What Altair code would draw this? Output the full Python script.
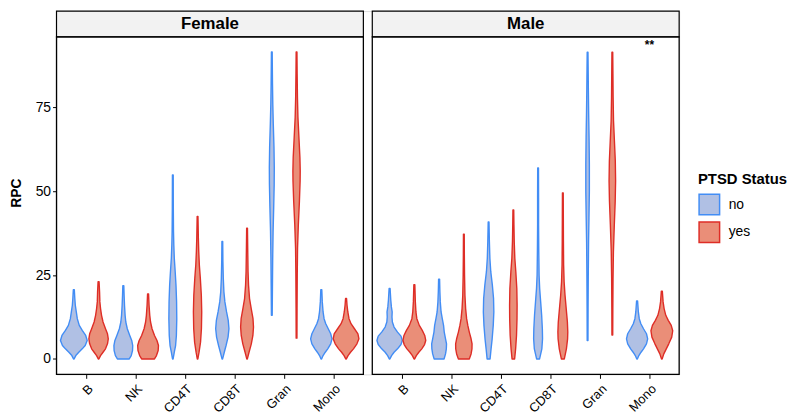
import altair as alt
import pandas as pd

cells = ["B", "NK", "CD4T", "CD8T", "Gran", "Mono"]
sexes = ["Female", "Male"]
statuses = ["no", "yes"]
male_shift = 6.38
dodge = 0.25
unit_px = 50.0

fill_colors = ["#b0c0e4", "#ea8e78"]
stroke_colors = ["#428df5", "#de2d26"]

# violin profiles: (RPC value, half-width in px)
female_no_B = [(0,0.3),(1,2),(2,5),(3,8.5),(4,11.5),(5.5,13.5),(7,12),(8.5,8.5),(10,5.5),(12,3.5),(14,2.5),(16,1.5),(18,1),(20.6,0.5)]
female_yes_B = [(0,0.3),(1,2),(2,4.5),(3,7),(4.5,9),(6,9.8),(7.5,9),(9,7),(11,4.5),(13,3),(15,2),(17,1.3),(20,1),(23,0.5)]
female_no_NK = [(0,6),(1,8),(2.5,9.3),(4,9.5),(5.5,8.5),(7,6.5),(9,4),(11,2.5),(13,1.8),(16,1.2),(19,0.8),(21.8,0.5)]
female_yes_NK = [(0,6.5),(1,8.5),(2.5,10.2),(4,10.5),(5.5,9),(7,6.5),(9,4),(11,2.5),(13,1.7),(16,1),(19.4,0.5)]
female_no_CD4T = [(0,0.3),(2,1.5),(4,2.8),(7,3.6),(12,4),(17,3.8),(22,3.2),(26,2.4),(30,1.5),(34,1),(38,0.7),(45,0.5),(54.8,0.4)]
female_yes_CD4T = [(0,0.3),(2,1.5),(5,3),(9,3.9),(14,4.2),(19,3.8),(24,2.8),(28,1.8),(32,1.2),(36,0.8),(42.5,0.4)]
female_no_CD8T = [(0,0.3),(2,2),(4,3.8),(6.5,5.8),(9,6.7),(11.5,6),(14,4.3),(17,2.6),(20,1.6),(24,1),(29,0.6),(35,0.4)]
female_yes_CD8T = [(0,0.3),(2,2),(4.5,4.3),(7,5.9),(9.5,6.5),(12,6),(15,4.2),(18,2.5),(22,1.5),(26,1),(32,0.7),(39,0.4)]
female_no_Gran = [(13,0.4),(20,0.6),(30,0.9),(38,1.3),(45,1.9),(52,2.4),(57,2.5),(63,2.2),(70,1.5),(76,1),(82,0.7),(88,0.5),(91.5,0.4)]
female_yes_Gran = [(6.2,0.4),(15,0.5),(25,0.7),(33,1),(40,1.8),(47,2.9),(53,3.6),(56,3.7),(60,3.4),(66,2.4),(72,1.4),(78,0.9),(85,0.6),(91.5,0.4)]
female_no_Mono = [(0,0.3),(1,1.8),(2,4),(3,6.5),(4.5,9.5),(6,10.8),(7.5,9.5),(9,7),(10.5,4.5),(12,2.8),(14,1.8),(17,1),(20.6,0.5)]
female_yes_Mono = [(0,0.3),(1,2),(2,4.5),(3,7.5),(4.5,11),(6,13),(7.5,12),(9,8.5),(10.5,5),(12,3),(14,1.8),(16,1),(18,0.5)]

male_no_B = [(0,0.3),(1,2),(2,4.5),(3,8),(4.3,11.5),(5.5,12.8),(6.8,11.5),(8,8),(9.5,4.5),(11,2.8),(12.5,2.4),(14,2.6),(15.5,1.8),(17.5,1.2),(21,0.5)]
male_yes_B = [(0,0.3),(1,2),(2,4.5),(3,7.5),(4.3,10.3),(5.5,11.5),(7,10.5),(8.5,8),(10,5),(12,2.5),(14,1.6),(17,1),(22.1,0.5)]
male_no_NK = [(0,5),(1.5,6.5),(3,7.3),(4.5,7.5),(6,6.5),(8,5.2),(10,4.5),(12,3.2),(14,2),(17,1.2),(20,0.8),(23.8,0.5)]
male_yes_NK = [(0,5.5),(1.5,7.3),(3,8.2),(4.5,8.3),(6,7.3),(8,5.5),(10,4),(12,2.8),(15,1.8),(19,1.1),(25,0.7),(31,0.5),(37.2,0.4)]
male_no_CD4T = [(0,1.5),(3,2.5),(6,3.6),(10,4.7),(14,5.3),(18,5),(22,3.8),(26,2.2),(30,1.3),(35,0.8),(40.8,0.4)]
male_yes_CD4T = [(0,1.3),(3,2.3),(7,3.2),(12,3.7),(16,3.8),(21,3.5),(26,2.5),(30,1.5),(35,0.9),(40,0.6),(44.4,0.4)]
male_no_CD8T = [(0,1.5),(3,3.8),(6,4.5),(9,4.3),(13,3.6),(17,2.6),(21,1.6),(25,1),(32,0.7),(40,0.5),(48,0.5),(56.9,0.4)]
male_yes_CD8T = [(0,1.5),(3,3.6),(6,4.8),(8,5),(11,4.6),(15,3.4),(19,2.2),(23,1.3),(28,0.8),(35,0.6),(42,0.5),(49.5,0.4)]
male_no_Gran = [(5.5,0.4),(15,0.5),(25,0.7),(35,1),(42,1.4),(50,1.8),(58,1.8),(66,1.5),(73,1.1),(80,0.8),(86,0.6),(91.4,0.4)]
male_yes_Gran = [(7.1,0.4),(15,0.5),(24,0.7),(32,1.1),(40,2),(47,2.9),(53,3.3),(59,3),(65,2.1),(71,1.2),(78,0.8),(85,0.6),(91.4,0.4)]
male_no_Mono = [(0,0.3),(1,1.8),(2,4),(3,6.5),(4.5,9.5),(6,10.7),(7.5,9.5),(9,6.5),(10.5,3.8),(12,2.2),(14,1.3),(17.3,0.5)]
male_yes_Mono = [(0,0.3),(1.5,2),(3,4.5),(4.5,7),(6.5,10),(8.4,11),(10,9.5),(11.5,6.5),(13,4),(15,2.3),(17,1.3),(20.2,0.5)]

annot_text = "**"
annot_value = 93.5

g = globals()
rows = []
for sex in sexes:
    for st in statuses:
        for c_i, cell in enumerate(cells):
            prof = g[f"{sex.lower()}_{st}_{cell}"]
            base = c_i + 1 + (male_shift if sex == "Male" else 0)
            center = base + (-dodge if st == "no" else dodge)
            for v, w in prof:
                rows.append({"sex": sex, "status": st, "cell": cell,
                             "vid": f"{sex}-{st}-{cell}", "val": v,
                             "hw": w / unit_px, "center": center})
vdf = pd.DataFrame(rows)

panel_bounds = [(0.4, 6.6), (0.4 + male_shift, 6.6 + male_shift)]
y_lo, y_panel_top, y_top = -4.6, 96.0, 103.67

xscale = alt.Scale(domain=[0.4, 6.6 + male_shift], nice=False, zero=False)
yscale = alt.Scale(domain=[y_lo, y_top], nice=False, zero=False)

tick_vals = [i + 1 for i in range(6)] + [i + 1 + male_shift for i in range(6)]
arr = "[" + ",".join(f"'{c}'" for c in cells) + "]"
label_expr = (f"datum.value < 6.7 ? {arr}[round(datum.value) - 1] : "
              f"{arr}[round(datum.value - {male_shift}) - 1]")

yaxis = alt.Axis(values=[0, 25, 50, 75], title="RPC", grid=False,
                 domain=False, tickSize=4, tickColor="black",
                 labelFontSize=14, labelColor="black", labelPadding=2,
                 titleFontSize=14, titleFontWeight="bold",
                 titleColor="black", titlePadding=12)
xaxis = alt.Axis(values=tick_vals, labelExpr=label_expr, title=None,
                 grid=False, domain=False, tickSize=4,
                 tickColor="black", labelAngle=-45,
                 labelAlign="right", labelBaseline="top",
                 labelFontSize=13, labelColor="black",
                 labelPadding=4)

violins = alt.Chart(vdf).mark_area(
    orient="horizontal", strokeWidth=1.4, strokeJoin="round"
).transform_calculate(
    lo="datum.center - datum.hw", hi="datum.center + datum.hw"
).encode(
    y=alt.Y("val:Q", scale=yscale, axis=yaxis, stack=None),
    x=alt.X("lo:Q", scale=xscale, axis=xaxis, stack=None),
    x2="hi:Q",
    detail="vid:N",
    fill=alt.Fill("status:N", scale=alt.Scale(domain=statuses, range=fill_colors),
                  legend=alt.Legend(title="PTSD Status", orient="none",
                                    legendX=648, legendY=163,
                                    symbolType="square", symbolSize=430,
                                    symbolStrokeWidth=1.5, titleFontSize=15,
                                    titleFontWeight="bold", titleColor="black",
                                    labelFontSize=14, labelColor="black",
                                    labelOffset=8, titlePadding=6,
                                    rowPadding=1)),
    stroke=alt.Stroke("status:N", scale=alt.Scale(domain=statuses, range=stroke_colors),
                      legend=alt.Legend(title="PTSD Status", orient="none",
                                        legendX=648, legendY=163)),
)

pdf = pd.DataFrame({
    "sex": sexes,
    "x0": [b[0] for b in panel_bounds],
    "x1": [b[1] for b in panel_bounds],
    "y0": [y_lo, y_lo], "y1": [y_panel_top, y_panel_top],
    "s0": [y_panel_top, y_panel_top], "s1": [y_top, y_top],
    "xm": [(b[0] + b[1]) / 2 for b in panel_bounds],
    "ym": [(y_panel_top + y_top) / 2] * 2,
})

strips = alt.Chart(pdf).mark_rect(fill="#f2f2f2", stroke="black", strokeWidth=1.2).encode(
    x=alt.X("x0:Q", scale=xscale, axis=xaxis), x2="x1:Q",
    y=alt.Y("s0:Q", scale=yscale, axis=yaxis), y2="s1:Q",
)
strip_text = alt.Chart(pdf).mark_text(fontSize=17, fontWeight="bold", color="black",
                                      baseline="middle").encode(
    x=alt.X("xm:Q", scale=xscale, axis=xaxis),
    y=alt.Y("ym:Q", scale=yscale, axis=yaxis),
    text="sex:N",
)
borders = alt.Chart(pdf).mark_rect(fillOpacity=0, stroke="black", strokeWidth=1.3).encode(
    x=alt.X("x0:Q", scale=xscale, axis=xaxis), x2="x1:Q",
    y=alt.Y("y0:Q", scale=yscale, axis=yaxis), y2="y1:Q",
)
adf = pd.DataFrame({"x": [6 + male_shift], "y": [annot_value], "t": [annot_text]})
annot = alt.Chart(adf).mark_text(fontSize=12, fontWeight="bold", color="black",
                                 baseline="middle").encode(
    x=alt.X("x:Q", scale=xscale, axis=xaxis),
    y=alt.Y("y:Q", scale=yscale, axis=yaxis),
    text="t:N",
)

chart = alt.layer(violins, strips, strip_text, borders, annot).properties(
    width=629, height=367,
    autosize=alt.AutoSizeParams(type="none"),
    padding={"left": 49, "top": 1, "right": 114, "bottom": 45},
).configure_view(stroke=None).configure(
    font="Liberation Sans"
)

chart.save("out.html", embed_options={"renderer": "svg", "actions": False})
